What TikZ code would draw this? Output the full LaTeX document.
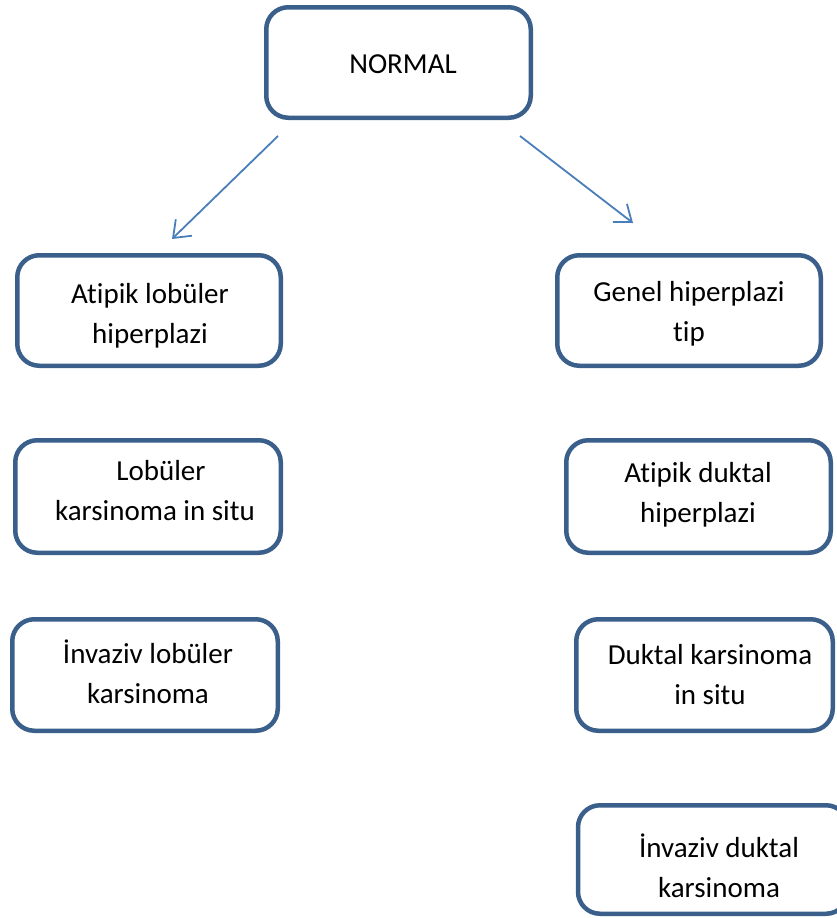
\documentclass[tikz,border=0pt]{standalone}
\usepackage{fontspec}
\setmainfont[Ligatures=NoCommon]{Carlito}
\usetikzlibrary{arrows.meta}
\definecolor{boxline}{HTML}{3A5F8B}
\definecolor{arrowline}{HTML}{4A7EBB}
\begin{document}
\begin{tikzpicture}[x=1pt,y=-1pt,
  box/.style={draw=boxline, line width=4.5pt, rounded corners=22pt, fill=white, inner sep=0pt},
  lbl/.style={font=\fontsize{29}{40}\selectfont, align=center, anchor=base, inner sep=0pt},
  arr/.style={draw=arrowline, line width=1.8pt, -{Straight Barb[length=15pt,width=23pt]}}]
\useasboundingbox (0,0) rectangle (836,918);
% boxes
\node[box, minimum width=264.5pt, minimum height=110.5pt] (normal) at (398.5,62.5) {};
\node[box, minimum width=263.5pt, minimum height=110.5pt] (alh) at (149,310.5) {};
\node[box, minimum width=263.5pt, minimum height=110.5pt] (gen) at (689,310.5) {};
\node[box, minimum width=265.5pt, minimum height=112.5pt] (lcis) at (148,496.5) {};
\node[box, minimum width=264.5pt, minimum height=112.5pt] (adh) at (698.5,496.5) {};
\node[box, minimum width=265.5pt, minimum height=111.5pt] (ilc) at (145,675) {};
\node[box, minimum width=256.5pt, minimum height=111.5pt] (dcis) at (704.5,675) {};
\node[box, minimum width=270pt, minimum height=108.5pt] (idc) at (713,859.5) {};
% labels (anchor = baseline of last line)
\node[lbl] (normalT) at (403,73) {NORMAL};
\node[lbl] (alhT) at (150,343) {Atipik lobüler\\hiperplazi};
\node[lbl] (genT) at (689,341) {Genel hiperplazi\\tip};
\node[lbl] (lcisT) at (155,520) {\hspace*{12pt}Lobüler\\karsinoma in situ};
\node[lbl] (adhT) at (698,522) {Atipik duktal\\hiperplazi};
\node[lbl] (ilcT) at (148,703) {İnvaziv lobüler\\karsinoma};
\node[lbl] (dcisT) at (710,704) {Duktal karsinoma\\in situ};
\node[lbl] (idcT) at (719,897) {İnvaziv duktal\\karsinoma};
% arrows
\coordinate (ls) at (278,136);
\coordinate (le) at (172,239);
\coordinate (rs) at (520,136);
\coordinate (re) at (633,223);
\draw[arr] (ls) -- (le);
\draw[arr] (rs) -- (re);
\end{tikzpicture}
\end{document}
